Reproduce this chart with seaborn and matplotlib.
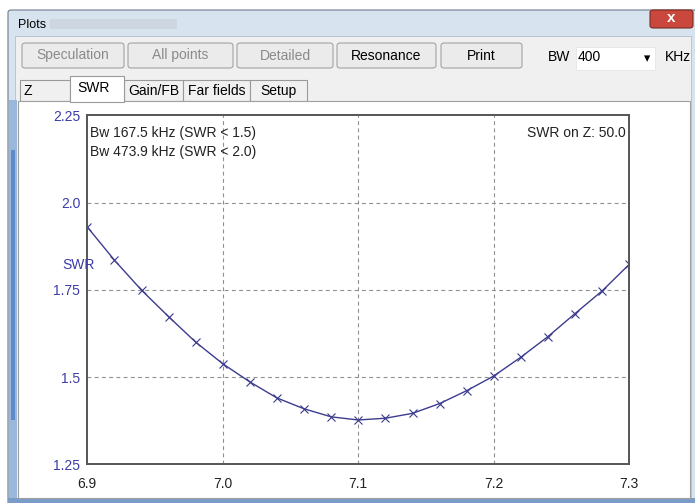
import seaborn as sns
import pandas as pd
import matplotlib.pyplot as plt
from matplotlib.patches import Rectangle, FancyBboxPatch

# SWR sweep (MHz, SWR)
freq = [6.90, 6.92, 6.94, 6.96, 6.98, 7.00, 7.02, 7.04, 7.06, 7.08, 7.10,
        7.12, 7.14, 7.16, 7.18, 7.20, 7.22, 7.24, 7.26, 7.28, 7.30]
swr = [1.930, 1.835, 1.749, 1.673, 1.600, 1.538, 1.486, 1.440, 1.409, 1.386, 1.377,
       1.382, 1.396, 1.424, 1.461, 1.503, 1.557, 1.616, 1.682, 1.747, 1.823]

x_ticks = [6.9, 7.0, 7.1, 7.2, 7.3]
x_tick_labels = ["6.9", "7.0", "7.1", "7.2", "7.3"]
y_ticks = [1.25, 1.5, 1.75, 2.0, 2.25]
y_tick_labels = ["1.25", "1.5", "1.75", "2.0", "2.25"]

buttons = ["Speculation", "All points", "Detailed", "Resonance", "Print"]
buttons_enabled = [False, False, False, True, True]
tabs = ["Z", "SWR", "Gain/FB", "Far fields", "Setup"]
bw_notes = ["Bw 167.5 kHz (SWR < 1.5)", "Bw 473.9 kHz (SWR < 2.0)"]
z_note = "SWR on Z: 50.0"

df = pd.DataFrame({"freq": freq, "swr": swr})

sns.set_style("white")
plt.rcParams["font.family"] = ["Liberation Sans", "DejaVu Sans"]

W, H = 695, 503
fig = plt.figure(figsize=(W / 100, H / 100), dpi=100)
fig.patch.set_facecolor("white")


# petites fonctions pour dessiner la fenetre en pixels
def box(x0, y0, x1, y1, rounded=False, **kw):
    kw.setdefault("zorder", -5)
    if rounded:
        p = FancyBboxPatch((x0 / W, 1 - y1 / H), (x1 - x0) / W, (y1 - y0) / H,
                           boxstyle="round,pad=0,rounding_size=0.005",
                           transform=fig.transFigure, **kw)
    else:
        p = Rectangle((x0 / W, 1 - y1 / H), (x1 - x0) / W, (y1 - y0) / H,
                      transform=fig.transFigure, **kw)
    fig.patches.append(p)


def label(x, y, s, **kw):
    kw.setdefault("fontsize", 10)
    kw.setdefault("va", "center")
    fig.text(x / W, 1 - y / H, s, **kw)


# cadre de la fenetre
box(8, 10, 697, 505, rounded=True, facecolor="#d8e3f0", edgecolor="#6f7b8c", lw=0.8, zorder=-8)
box(15, 36, 691, 498, facecolor="#f0f0f0", edgecolor="#b4c0cf", lw=0.6, zorder=-7)
box(9, 100, 17, 498, facecolor="#9ab8dc", edgecolor="none", zorder=-7)
box(11, 150, 15, 420, facecolor="#5d8cc8", edgecolor="none", zorder=-6)
box(8, 498, 695, 503, facecolor="#7a9cc8", edgecolor="none", zorder=-6)
box(50, 19, 177, 29, facecolor="#c6ccd6", edgecolor="none", alpha=0.6, zorder=-6)
label(18, 25, "Plots", fontsize=9, color="black")
box(650, 10, 693, 28, rounded=True, facecolor="#c9473c", edgecolor="#7a2a22", lw=0.8)
label(671, 18, "x", fontsize=11, color="white", ha="center", fontweight="bold")

# boutons
btn_x = [(22, 124), (128, 233), (237, 333), (337, 436), (441, 522)]
for (x0, x1), name, on in zip(btn_x, buttons, buttons_enabled):
    box(x0, 43, x1, 68, rounded=True, facecolor="#ebebeb", edgecolor="#a3a3a3", lw=0.8)
    label((x0 + x1) / 2, 55.5, name, ha="center", color="black" if on else "#8a8a8a")
label(548, 57, "BW", color="black")
box(576, 47, 655, 70, facecolor="white", edgecolor="#e6e6e6", lw=0.6)
label(578, 57, "400", color="black")
label(647, 59, "\u25be", ha="center", fontsize=9, color="black")
label(665, 57, "KHz", color="black")

# onglets
tab_x = [(20, 70), (70, 124), (124, 183), (183, 250), (250, 307)]
for (x0, x1), name in zip(tab_x, tabs):
    if name == "SWR":
        box(x0, 76, x1, 102, facecolor="white", edgecolor="#9a9a9a", lw=0.8, zorder=-3)
        label((x0 + x1) / 2 - 3, 88, name, ha="center", color="black")
    else:
        box(x0, 80, x1, 101, facecolor="#f0f0f0", edgecolor="#9a9a9a", lw=0.8)
        label(x0 + 4 if name == "Z" else (x0 + x1) / 2, 91, name,
              ha="left" if name == "Z" else "center", color="black")
box(18, 101, 690, 498, facecolor="white", edgecolor="#a0a0a0", lw=0.8, zorder=-4)

# zone du graphique
ax = fig.add_axes([87.3 / W, 1 - 464.3 / H, 542 / W, 349 / H])
ax.set_facecolor("white")
sns.lineplot(data=df, x="freq", y="swr", ax=ax, color="#3c3c8e", lw=1.0,
             marker="x", markersize=5.5, markeredgewidth=0.8,
             markeredgecolor="#3c3c8e")

ax.set_xlim(6.9, 7.3)
ax.set_ylim(1.25, 2.25)
ax.set_xticks(x_ticks)
ax.set_xticklabels(x_tick_labels, fontsize=10, color="#222222")
ax.set_yticks(y_ticks)
ax.set_yticklabels(y_tick_labels, fontsize=10, color="#3c3ca8")
ax.tick_params(axis="x", length=0, pad=9)
ax.tick_params(axis="y", length=0, pad=5)
ax.set_xlabel("")
ax.set_ylabel("")

for v in x_ticks[1:-1]:
    ax.axvline(v, color="#909090", lw=0.8, ls=(0, (3.5, 3)), zorder=0)
for v in y_ticks[1:-1]:
    ax.axhline(v, color="#909090", lw=0.8, ls=(0, (3.5, 3)), zorder=0)

for s in ax.spines.values():
    s.set_visible(True)
    s.set_color("#555555")
    s.set_linewidth(1.4)

ax.text(0.005, 0.949, bw_notes[0], transform=ax.transAxes, ha="left", va="center",
        fontsize=10, color="#222222")
ax.text(0.005, 0.895, bw_notes[1], transform=ax.transAxes, ha="left", va="center",
        fontsize=10, color="#222222")
ax.text(0.993, 0.949, z_note, transform=ax.transAxes, ha="right", va="center",
        fontsize=10, color="#222222")
label(62, 265, "SWR", color="#3c3ca8")

plt.savefig("out.png", dpi=100)
